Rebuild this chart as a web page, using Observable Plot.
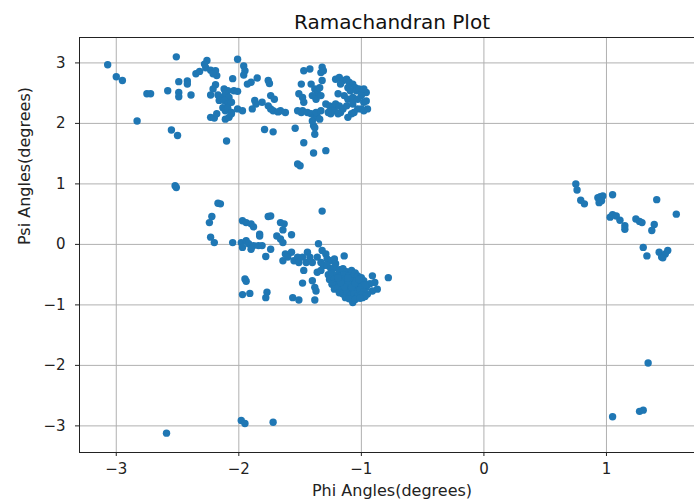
<!DOCTYPE html>
<html>
<head>
<meta charset="utf-8">
<script src="https://cdn.jsdelivr.net/npm/d3@7"></script>
<script src="https://cdn.jsdelivr.net/npm/@observablehq/plot@0.6"></script>
<style>
  html, body { margin: 0; padding: 0; background: #fff; overflow: hidden; }
  #chart { width: 694px; height: 499px; overflow: hidden; }
  #chart svg { max-width: none !important; display: block; }
</style>
</head>
<body>
<div id="chart"></div>
<script>
// Labels and ticks
const titleText = "Ramachandran Plot";
const xLabel = "Phi Angles(degrees)";
const yLabel = "Psi Angles(degrees)";
const xTicks = [-3, -2, -1, 0, 1];
const yTicks = [-3, -2, -1, 0, 1, 2, 3];

// [phi, psi] pairs
const betaRegion = [
[-3.07,2.97],[-3.00,2.77],[-2.95,2.71],[-2.75,2.49],[-2.72,2.49],[-2.83,2.04],[-2.51,3.10],[-2.58,2.54],[-2.49,2.69],[-2.42,2.70],[-2.42,2.65],[-2.49,2.51],[-2.49,2.44],[-2.39,2.47],[-2.55,1.89],[-2.50,1.80],[-2.52,0.97],[-2.51,0.94],
[-2.35,2.82],[-2.32,2.86],[-2.27,2.92],[-2.26,3.04],[-2.28,2.98],[-2.23,2.88],[-2.19,2.87],[-2.18,2.79],[-2.21,2.82],
[-2.19,2.64],[-2.21,2.57],[-2.23,2.47],[-2.17,2.47],[-2.15,2.43],[-2.16,2.38],
[-2.12,2.57],[-2.09,2.54],[-2.11,2.49],[-2.08,2.43],[-2.12,2.38],[-2.09,2.32],[-2.06,2.35],[-2.04,2.54],[-2.01,2.53],[-2.05,2.74],
[-2.13,2.26],[-2.11,2.21],[-2.09,2.25],[-2.06,2.18],[-2.23,2.10],[-2.20,2.09],[-2.18,2.16],[-2.11,2.07],[-2.08,2.10],[-2.06,2.16],[-2.10,1.71],
[-2.01,3.06],[-1.96,2.95],[-1.95,2.87],[-1.96,2.80],[-2.01,2.24],[-1.97,2.21],[-1.93,2.65],[-1.90,2.68],[-1.85,2.75],[-1.87,2.38],[-1.86,2.32],[-1.89,2.24],
[-1.81,2.35],[-1.76,2.29],[-1.74,2.24],[-1.72,2.21],[-1.76,2.71],[-1.75,2.66],[-1.74,2.46],[-1.71,2.40],[-1.79,1.90],[-1.72,1.86],
[-1.62,2.18],[-1.66,2.21],[-1.68,2.19],[-1.54,1.92],[-1.52,2.21],[-1.49,2.18],[-1.47,1.68],[-1.52,1.33],[-1.50,1.30],[-1.39,1.51],[-1.29,1.55],[-1.38,1.82],[-1.39,1.96],
[-1.47,2.87],[-1.42,2.90],[-1.32,2.93],[-1.31,2.87],[-1.33,2.84],
[-1.49,2.65],[-1.51,2.49],[-1.48,2.43],[-1.47,2.35],
[-1.41,2.65],[-1.38,2.57],[-1.36,2.51],[-1.40,2.46],[-1.37,2.40],[-1.34,2.59],[-1.32,2.71],[-1.33,2.46],
[-1.48,2.21],[-1.44,2.18],[-1.41,2.16],[-1.38,2.10],[-1.36,2.11],[-1.37,2.18],[-1.40,2.04],[-1.38,1.93],[-1.34,2.07],[-1.33,2.21],
[-1.29,2.32],[-1.26,2.29],[-1.23,2.26],[-1.22,2.21],[-1.21,2.32],[-1.18,2.29],[-1.15,2.24],[-1.12,2.29],[-1.17,2.18],[-1.19,2.16],[-1.25,2.16],[-1.27,2.18],
[-1.21,2.73],[-1.18,2.76],[-1.15,2.71],[-1.12,2.73],[-1.10,2.68],[-1.07,2.65],[-1.05,2.59],[-1.17,2.65],[-1.11,2.59],[-1.09,2.54],[-1.04,2.54],[-1.02,2.57],[-0.99,2.54],[-0.96,2.51],[-0.98,2.57],[-1.00,2.46],
[-1.19,2.49],[-1.14,2.46],[-1.11,2.40],[-1.07,2.43],[-1.03,2.40],[-1.07,2.32],[-0.98,2.35],[-0.96,2.37],[-0.95,2.24],[-0.98,2.21],[-1.00,2.24],[-1.03,2.24],[-1.06,2.18],[-1.08,2.16],[-1.11,2.10]
];

const alphaRegion = [
[-2.15,0.67],[-2.17,0.68],[-2.22,0.46],[-2.24,0.36],[-2.23,0.12],[-2.20,0.03],[-2.05,0.03],
[-1.97,0.39],[-1.94,0.36],[-1.90,0.34],[-1.88,0.29],
[-1.98,0.03],[-1.94,0.06],[-1.92,0.01],[-1.88,-0.02],[-1.84,-0.02],[-1.81,-0.02],[-1.97,-0.05],[-1.90,-0.08],
[-1.83,0.17],[-1.83,0.14],[-1.76,0.46],[-1.74,0.47],
[-1.66,0.36],[-1.63,0.34],[-1.64,0.24],[-1.69,0.14],[-1.66,0.09],[-1.64,0.03],[-1.57,0.16],
[-1.74,-0.08],[-1.78,-0.20],[-1.32,0.55],
[-1.64,-0.27],[-1.62,-0.16],[-1.57,-0.13],[-1.60,-0.21],[-1.55,-0.27],[-1.52,-0.21],[-1.51,-0.30],[-1.48,-0.21],
[-1.44,-0.13],[-1.42,-0.21],[-1.45,-0.30],[-1.47,-0.43],[-1.40,-0.30],[-1.36,-0.21],[-1.35,0.01],[-1.32,-0.10],[-1.29,-0.16],[-1.28,-0.24],[-1.33,-0.30],[-1.31,-0.35],[-1.36,-0.46],[-1.25,-0.27],[-1.22,-0.24],[-1.14,-0.19],[-1.21,-0.32],
[-1.95,-0.57],[-1.94,-0.61],[-1.97,-0.83],[-1.91,-0.81],[-1.77,-0.79],[-1.78,-0.88],[-1.56,-0.88],[-1.51,-0.92],
[-1.48,-0.64],[-1.40,-0.60],[-1.38,-0.71],[-1.37,-0.77],[-1.38,-0.92],[-1.33,-0.43],
[-0.91,-0.52],[-0.89,-0.63],[-0.87,-0.74],[-0.91,-0.77],[-0.95,-0.82],[-0.99,-0.88],[-0.96,-0.71],[-0.93,-0.65],[-0.78,-0.55],[-1.07,-0.96]
];

const alphaCore = [
[-1.28,-0.35],[-1.25,-0.40],[-1.22,-0.38],[-1.18,-0.42],[-1.15,-0.40],[-1.12,-0.45],[-1.08,-0.43],[-1.05,-0.47],
[-1.27,-0.50],[-1.24,-0.48],[-1.20,-0.50],[-1.17,-0.52],[-1.14,-0.50],[-1.10,-0.52],[-1.07,-0.54],[-1.03,-0.52],[-1.00,-0.55],
[-1.26,-0.58],[-1.22,-0.57],[-1.19,-0.60],[-1.16,-0.58],[-1.13,-0.60],[-1.10,-0.58],[-1.07,-0.61],[-1.04,-0.60],[-1.01,-0.63],[-0.98,-0.60],
[-1.24,-0.66],[-1.21,-0.68],[-1.18,-0.65],[-1.15,-0.67],[-1.12,-0.66],[-1.09,-0.68],[-1.06,-0.66],[-1.03,-0.69],[-1.00,-0.70],[-0.97,-0.68],
[-1.22,-0.74],[-1.19,-0.72],[-1.16,-0.75],[-1.13,-0.73],[-1.10,-0.76],[-1.07,-0.74],[-1.04,-0.77],[-1.01,-0.75],[-0.98,-0.78],
[-1.18,-0.80],[-1.15,-0.82],[-1.12,-0.80],[-1.09,-0.84],[-1.06,-0.82],[-1.03,-0.85],[-1.00,-0.83],[-0.97,-0.86],
[-1.13,-0.88],[-1.10,-0.90],[-1.05,-0.91],[-1.01,-0.89],
[-1.11,-0.63],[-1.14,-0.70],[-1.08,-0.71],[-1.17,-0.63],[-1.05,-0.64],[-1.11,-0.55],[-1.19,-0.55],[-1.02,-0.58]
];

const leftHanded = [
[0.75,1.00],[0.76,0.90],[0.79,0.73],[0.82,0.67],[0.93,0.77],[0.95,0.79],[0.97,0.80],[0.96,0.72],[0.94,0.69],[1.05,0.82],[1.41,0.74],[1.57,0.50],
[1.03,0.45],[1.05,0.49],[1.08,0.47],[1.11,0.40],[1.15,0.31],[1.15,0.25],[1.24,0.42],[1.27,0.38],[1.29,0.36],[1.39,0.33],[1.37,0.23],
[1.30,-0.05],[1.33,-0.19],[1.43,-0.13],[1.45,-0.21],[1.48,-0.16],[1.50,-0.10],[1.46,-0.22]
];

const outliers = [
[-2.59,-3.12],[-1.98,-2.91],[-1.95,-2.96],[-1.72,-2.94],[1.05,-2.85],[1.27,-2.76],[1.30,-2.74],[1.34,-1.96]
];

const points = [...betaRegion, ...alphaRegion, ...alphaCore, ...leftHanded, ...outliers]
  .map(([phi, psi]) => ({phi, psi}));

const intFormat = d3.format("d");

const chart = Plot.plot({
  width: 704,
  height: 499,
  marginLeft: 79,
  marginRight: 0,
  marginTop: 37,
  marginBottom: 47,
  style: {fontFamily: "DejaVu Sans", fontSize: "15px", color: "#222", background: "#fff", maxWidth: "none"},
  x: {domain: [-3.30, 1.80]},
  y: {domain: [-3.44, 3.42]},
  marks: [
    Plot.gridX(xTicks, {stroke: "#b0b0b0", strokeOpacity: 1, strokeWidth: 1}),
    Plot.gridY(yTicks, {stroke: "#b0b0b0", strokeOpacity: 1, strokeWidth: 1}),
    Plot.dot(points, {x: "phi", y: "psi", r: 3.7, fill: "#1f77b4", stroke: "none"}),
    Plot.frame({stroke: "#222", strokeWidth: 1}),
    Plot.axisX({ticks: xTicks, tickFormat: intFormat, tickSize: 4, tickPadding: 7, label: null, fontSize: 15, stroke: "#222"}),
    Plot.axisY({ticks: yTicks, tickFormat: intFormat, tickSize: 4, tickPadding: 10, label: null, fontSize: 15, stroke: "#222"}),
    Plot.text([titleText], {text: d => d, frameAnchor: "top", dy: -15, fontSize: 20, fill: "#111", lineAnchor: "middle"}),
    Plot.text([xLabel], {text: d => d, frameAnchor: "bottom", dy: 38, fontSize: 16, fill: "#222", lineAnchor: "middle"}),
    Plot.text([yLabel], {text: d => d, frameAnchor: "left", dx: -55, rotate: -90, fontSize: 16, fill: "#222", lineAnchor: "middle"})
  ]
});
document.getElementById("chart").appendChild(chart);
</script>
</body>
</html>
